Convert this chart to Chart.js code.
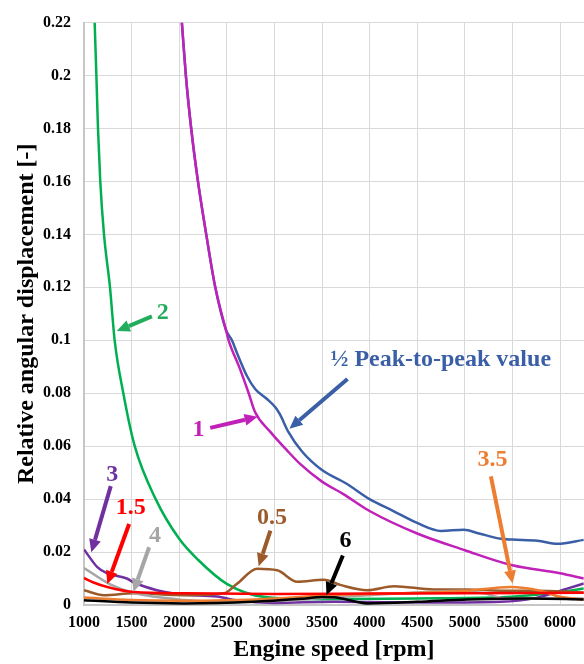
<!DOCTYPE html>
<html>
<head>
<meta charset="utf-8">
<script src="https://cdn.jsdelivr.net/npm/chart.js@4/dist/chart.umd.min.js"></script>
<style>
  html, body { margin: 0; padding: 0; background: #fff; }
  #wrap { width: 584px; height: 664px; }
</style>
</head>
<body>
<div id="wrap"><canvas id="myChart"></canvas></div>
<script>
// engine speed [rpm] / relative angular displacement [-]
const rpmPeak = [2028, 2070, 2126, 2197, 2284, 2379, 2490, 2554, 2607, 2712, 2800, 2923, 3010, 3060, 3145, 3290, 3500, 3750, 4000, 4250, 4500, 4750, 4990, 5150, 5380, 5500, 5765, 5975, 6250];
const valPeak = [0.22, 0.20, 0.18, 0.16, 0.14, 0.12, 0.104, 0.100, 0.0952, 0.0865, 0.0815, 0.0778, 0.0747, 0.0719, 0.0655, 0.058, 0.051, 0.046, 0.040, 0.0355, 0.031, 0.028, 0.0284, 0.027, 0.025, 0.0247, 0.0243, 0.0231, 0.0246];

const rpmOrd1 = [2028, 2070, 2126, 2197, 2284, 2379, 2490, 2519, 2640, 2730, 2795, 2955, 3130, 3270, 3500, 3720, 4000, 4500, 5000, 5500, 6000, 6250];
const valOrd1 = [0.22, 0.20, 0.18, 0.16, 0.14, 0.12, 0.104, 0.100, 0.089, 0.080, 0.073, 0.0655, 0.0585, 0.0533, 0.0466, 0.042, 0.0355, 0.027, 0.0207, 0.015, 0.012, 0.0100];

const rpmOrd2 = [1112, 1130, 1147, 1171, 1210, 1273, 1322, 1413, 1533, 1753, 2000, 2200, 2500, 2900, 3500, 4500, 5375, 5900, 6250];
const valOrd2 = [0.22, 0.20, 0.18, 0.16, 0.14, 0.12, 0.10, 0.08, 0.06, 0.04, 0.025, 0.017, 0.008, 0.003, 0.0022, 0.0025, 0.0029, 0.0044, 0.0062];

const rpmOrd3 = [1000, 1140, 1240, 1450, 1525, 1765, 2010, 2400, 2600, 3000, 3625, 4675, 5375, 5725, 6075, 6250];
const valOrd3 = [0.021, 0.0143, 0.012, 0.010, 0.0085, 0.0056, 0.0040, 0.0032, 0.0018, 0.0008, 0.0012, 0.0009, 0.0012, 0.0025, 0.0062, 0.0081];

const rpmOrd15 = [1000, 1100, 1245, 1525, 2050, 3000, 4000, 5000, 6250];
const valOrd15 = [0.0102, 0.0085, 0.0068, 0.0049, 0.0044, 0.0042, 0.0043, 0.0044, 0.0046];

const rpmOrd4 = [1000, 1270, 1520, 2050, 2500, 3000, 3500, 4325, 4990, 5200, 5440, 6250];
const valOrd4 = [0.0140, 0.0079, 0.0046, 0.0019, 0.0012, 0.0015, 0.0026, 0.0044, 0.0054, 0.0044, 0.0025, 0.0025];

const rpmOrd05 = [1000, 1210, 1525, 2050, 2470, 2610, 2820, 3030, 3240, 3520, 3700, 3975, 4255, 4675, 5025, 5375, 5725, 6250];
const valOrd05 = [0.0056, 0.0037, 0.0044, 0.0037, 0.0044, 0.0081, 0.0137, 0.0131, 0.0088, 0.0095, 0.0075, 0.0056, 0.0071, 0.0059, 0.0059, 0.0054, 0.0054, 0.0047];

const rpmOrd35 = [1000, 1500, 2000, 2500, 3000, 3600, 4325, 5025, 5480, 5790, 6000, 6250];
const valOrd35 = [0.0028, 0.0019, 0.0016, 0.0018, 0.0025, 0.0037, 0.0044, 0.0054, 0.0068, 0.0054, 0.0031, 0.0021];

const rpmOrd6 = [1000, 1500, 2050, 2780, 3300, 3500, 3625, 3975, 4500, 5025, 5700, 6250];
const valOrd6 = [0.0018, 0.0009, 0.0006, 0.0012, 0.0024, 0.0030, 0.0029, 0.0006, 0.0012, 0.0021, 0.0025, 0.0021];

const xTicks = [1000, 1500, 2000, 2500, 3000, 3500, 4000, 4500, 5000, 5500, 6000];

// labels with arrows, placed in data units
const callouts = [
    { text: '2', color: '#22ad5c', at: [1828, 0.1104], from: [1713, 0.1090], to: [1344, 0.1035] },
    { text: '\u00bd Peak-to-peak value', color: '#3a5fa6', at: [4747, 0.0928], from: [3768, 0.0854], to: [3158, 0.0666] },
    { text: '1', color: '#c021b8', at: [2203, 0.0661], from: [2326, 0.0669], to: [2824, 0.0711] },
    { text: '3', color: '#7030a0', at: [1298, 0.0493], from: [1281, 0.0449], to: [1077, 0.0199] },
    { text: '1.5', color: '#ff0000', at: [1491, 0.0368], from: [1474, 0.0306], to: [1245, 0.0079] },
    { text: '4', color: '#a6a6a6', at: [1747, 0.0262], from: [1684, 0.0218], to: [1519, 0.0050] },
    { text: '0.5', color: '#9c5a2a', at: [2975, 0.0330], from: [2958, 0.0281], to: [2835, 0.0146] },
    { text: '6', color: '#000000', at: [3747, 0.0243], from: [3719, 0.0187], to: [3547, 0.0037] },
    { text: '3.5', color: '#ed7d31', at: [5291, 0.0549], from: [5274, 0.0486], to: [5502, 0.0081] }
];

const pts = (xs, ys) => xs.map((x, i) => ({ x: x, y: ys[i] }));

const serif = "'Liberation Serif', 'Times New Roman', serif";
Chart.defaults.font.family = serif;
Chart.defaults.color = '#000';

const calloutPlugin = {
    id: 'callouts',
    afterDatasetsDraw(chart) {
        const { ctx, scales: { x, y } } = chart;
        ctx.save();
        ctx.font = 'bold 24px ' + serif;
        ctx.textAlign = 'center';
        ctx.textBaseline = 'middle';
        callouts.forEach(c => {
            const x0 = x.getPixelForValue(c.from[0]), y0 = y.getPixelForValue(c.from[1]);
            const x1 = x.getPixelForValue(c.to[0]), y1 = y.getPixelForValue(c.to[1]);
            const ang = Math.atan2(y1 - y0, x1 - x0);
            const head = 13, half = 6;
            const bx = x1 - head * Math.cos(ang), by = y1 - head * Math.sin(ang);
            ctx.strokeStyle = c.color;
            ctx.fillStyle = c.color;
            ctx.lineWidth = 4;
            ctx.beginPath();
            ctx.moveTo(x0, y0);
            ctx.lineTo(bx, by);
            ctx.stroke();
            ctx.beginPath();
            ctx.moveTo(x1, y1);
            ctx.lineTo(bx + half * Math.sin(ang), by - half * Math.cos(ang));
            ctx.lineTo(bx - half * Math.sin(ang), by + half * Math.cos(ang));
            ctx.closePath();
            ctx.fill();
            ctx.fillText(c.text, x.getPixelForValue(c.at[0]), y.getPixelForValue(c.at[1]));
        });
        ctx.restore();
    }
};

function line(data, color) {
    return {
        data: data,
        borderColor: color,
        backgroundColor: color,
        borderWidth: 2.5,
        pointRadius: 0,
        fill: false,
        cubicInterpolationMode: 'monotone'
    };
}

new Chart(document.getElementById('myChart').getContext('2d'), {
    type: 'line',
    data: {
        datasets: [
            line(pts(rpmOrd6, valOrd6), '#000000'),
            line(pts(rpmOrd15, valOrd15), '#ff0000'),
            line(pts(rpmOrd35, valOrd35), '#ed7d31'),
            line(pts(rpmOrd4, valOrd4), '#a6a6a6'),
            line(pts(rpmOrd05, valOrd05), '#9c5a2a'),
            line(pts(rpmOrd3, valOrd3), '#7030a0'),
            line(pts(rpmOrd2, valOrd2), '#00b050'),
            line(pts(rpmOrd1, valOrd1), '#c021b8'),
            line(pts(rpmPeak, valPeak), '#3a5fa6')
        ]
    },
    options: {
        responsive: true,
        maintainAspectRatio: false,
        animation: false,
        layout: { padding: { top: 17, right: 0, bottom: 0, left: 0 } },
        plugins: {
            legend: { display: false },
            tooltip: { enabled: false }
        },
        scales: {
            x: {
                type: 'linear',
                min: 1000,
                max: 6250,
                afterFit: s => { s.height = 59; },
                afterBuildTicks: s => { s.ticks = xTicks.map(v => ({ value: v })); },
                grid: { color: '#d9d9d9', lineWidth: 1, drawTicks: false },
                border: { color: '#c6c6c6', width: 2 },
                ticks: {
                    padding: 8,
                    maxRotation: 0,
                    font: { size: 16, weight: 'bold' },
                    callback: v => String(v)
                },
                title: {
                    display: true,
                    text: 'Engine speed [rpm]',
                    font: { size: 24, weight: 'bold' },
                    padding: { top: 0, bottom: 0 }
                }
            },
            y: {
                min: 0,
                max: 0.22,
                afterFit: s => { s.width = 84; },
                grid: { color: '#d9d9d9', lineWidth: 1, drawTicks: false },
                border: { color: '#c6c6c6', width: 2 },
                ticks: {
                    stepSize: 0.02,
                    padding: 13,
                    font: { size: 16, weight: 'bold' },
                    callback: v => String(+v.toFixed(2))
                },
                title: {
                    display: true,
                    text: 'Relative angular displacement [-]',
                    font: { size: 24, weight: 'bold' },
                    padding: { top: 12, bottom: 0 }
                }
            }
        }
    },
    plugins: [calloutPlugin]
});
</script>
</body>
</html>
